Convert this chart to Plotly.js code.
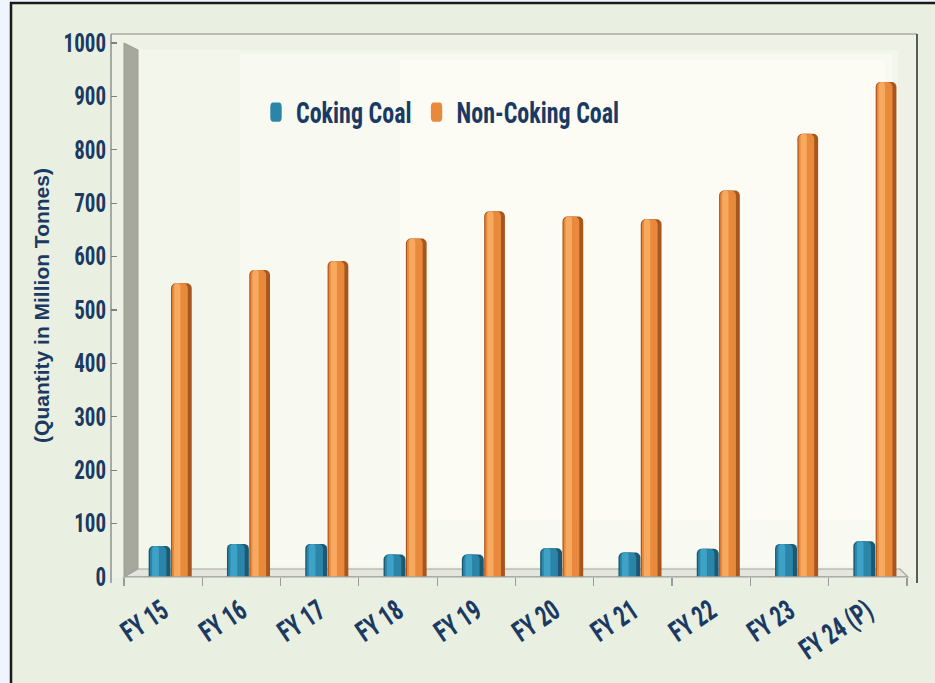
<!DOCTYPE html>
<html>
<head>
<meta charset="utf-8">
<script src="https://cdn.plot.ly/plotly-3.0.1.min.js"></script>
<style>
html,body{margin:0;padding:0;background:#eef5fc;}
#chart{width:935px;height:683px;}
</style>
</head>
<body>
<div id="chart"></div>
<script>
// ---- data ----
const categories = ['FY 15','FY 16','FY 17','FY 18','FY 19','FY 20','FY 21','FY 22','FY 23','FY 24 (P)'];
const cokingCoal = [58, 62, 62, 42, 42, 54, 46, 53, 62, 67];
const nonCokingCoal = [550, 575, 592, 634, 685, 675, 670, 724, 830, 927];
const yTickValues = [0, 100, 200, 300, 400, 500, 600, 700, 800, 900, 1000];
const seriesNames = ['Coking Coal', 'Non-Coking Coal'];
const yTitle = '(Quantity in Million Tonnes)';

// ---- font detection ----
function hasFont(name){
  const c = document.createElement('canvas').getContext('2d');
  const t = 'abcdefghijklmnopqrstuvwxyzABCDEFGH0123456789';
  let res = false;
  ['monospace','serif'].forEach(function(base){
    c.font = 'bold 40px ' + base; const a = c.measureText(t).width;
    c.font = 'bold 40px "' + name + '", ' + base; const b = c.measureText(t).width;
    if (Math.abs(a-b) > 0.5) res = true;
  });
  return res;
}
const narrow = ['Liberation Sans Narrow','Arial Narrow','Roboto Condensed','Open Sans Condensed','DejaVu Sans Condensed'].find(hasFont);
const condFamily = narrow ? '"' + narrow + '", "Liberation Sans", Arial, sans-serif' : '"Liberation Sans", Arial, sans-serif';
const sz = narrow ? {ytick:21, xtick:22, legend:24} : {ytick:17, xtick:17, legend:19};
const navy = '#1b3a63';

// ---- pixel helpers (plot area: 111..917 x 34..577) ----
const L = 111, T = 34, W = 806, H = 543;
const px = x => (x - L) / W;
const py = y => (T + H - y) / H;

function bar(vals, name, color, offset, width, showlegend){
  return {
    type:'bar', x:categories, y:vals, name:name, offset:offset, width:width,
    marker:{color:color, cornerradius:5, line:{width:0}},
    showlegend:showlegend, hoverinfo:'skip'
  };
}

const traces = [
  bar(cokingCoal, seriesNames[0], '#1a5873', -0.185, 0.28, false),
  bar(cokingCoal, seriesNames[0], '#2a85a8', -0.168, 0.21, true),
  bar(cokingCoal, seriesNames[0], '#3ea2c6', -0.14, 0.085, false),
  bar(nonCokingCoal, seriesNames[1], '#a8561f', 0.10, 0.265, false),
  bar(nonCokingCoal, seriesNames[1], '#e8893c', 0.115, 0.20, true),
  bar(nonCokingCoal, seriesNames[1], '#f7a95f', 0.14, 0.08, false)
];

const shapes = [
  // frame
  {type:'rect', xref:'paper', yref:'paper', x0:px(11), x1:px(980), y0:py(3), y1:py(720),
   fillcolor:'#e9efe1', line:{color:'#1a1a1a', width:2.5}, layer:'below'},
  // plot area
  {type:'rect', xref:'paper', yref:'paper', x0:px(111), x1:px(917), y0:py(34), y1:py(577),
   fillcolor:'#eef1e6', line:{width:0}, layer:'below'},
  // back wall
  {type:'rect', xref:'paper', yref:'paper', x0:px(138), x1:px(898), y0:py(50), y1:py(569),
   fillcolor:'#f3f6eb', line:{width:0}, layer:'below'},
  {type:'rect', xref:'paper', yref:'paper', x0:px(240), x1:px(892), y0:py(54), y1:py(566),
   fillcolor:'rgba(252,252,244,0.6)', line:{width:0}, layer:'below'},
  {type:'rect', xref:'paper', yref:'paper', x0:px(400), x1:px(885), y0:py(60), y1:py(520),
   fillcolor:'rgba(255,255,250,0.5)', line:{width:0}, layer:'below'},
  // side wall
  {type:'path', xref:'paper', yref:'paper',
   path:'M'+px(124)+','+py(43)+' L'+px(138)+','+py(50)+' L'+px(138)+','+py(569)+' L'+px(124)+','+py(577)+' Z',
   fillcolor:'#a6a89e', line:{color:'#9a9c92', width:1}, layer:'below'},
  // floor
  {type:'path', xref:'paper', yref:'paper',
   path:'M'+px(124)+','+py(577)+' L'+px(138)+','+py(569)+' L'+px(900)+','+py(569)+' L'+px(908)+','+py(577)+' Z',
   fillcolor:'#e4e5dc', line:{color:'#a2a39b', width:1.2}, layer:'below'},
  // box lines
  {type:'line', xref:'paper', yref:'paper', x0:px(111), x1:px(111), y0:py(34), y1:py(583), line:{color:'#7a7a7a', width:1.2}},
  {type:'line', xref:'paper', yref:'paper', x0:px(111), x1:px(917), y0:py(34), y1:py(34), line:{color:'#8a8a8a', width:1.2}},
  {type:'line', xref:'paper', yref:'paper', x0:px(917), x1:px(917), y0:py(34), y1:py(583), line:{color:'#2a2a2a', width:1.5}},
  // x baseline
  {type:'line', xref:'x', yref:'y', x0:-0.5, x1:9.5, y0:0, y1:0, line:{color:'#a5a5a5', width:1.5}}
];

const layout = {
  width:935, height:683,
  margin:{l:L, r:935-917, t:T, b:683-577},
  paper_bgcolor:'#eef5fc',
  plot_bgcolor:'rgba(0,0,0,0)',
  barmode:'overlay',
  showlegend:true,
  legend:{orientation:'h', x:px(256), xanchor:'left', y:py(90), yanchor:'top',
    bgcolor:'rgba(0,0,0,0)', font:{family:condFamily, size:sz.legend, color:navy, weight:'bold'},
    traceorder:'normal', itemclick:false, itemdoubleclick:false},
  xaxis:{type:'category', range:[-0.5-13/78.3, 9.5+10/78.3], showgrid:false, zeroline:false, showline:false,
    ticks:'outside', tickson:'boundaries', ticklen:8, tickcolor:'#9a9a9a', tickwidth:1.2, ticklabelstandoff:15,
    tickangle:-34, tickfont:{family:condFamily, size:sz.xtick, color:navy, weight:'bold'}, fixedrange:true},
  yaxis:{range:[0, 1017], tickvals:yTickValues, ticktext:yTickValues.map(String), showgrid:false, zeroline:false,
    showline:false, ticks:'inside', ticklen:6, tickcolor:'#808080', tickwidth:1.2, ticklabelstandoff:4,
    tickfont:{family:condFamily, size:sz.ytick, color:navy, weight:'bold'},
    title:{text:yTitle, standoff:8, font:{family:'"Liberation Sans", Arial, sans-serif', size:21, color:navy, weight:'bold'}},
    fixedrange:true},
  shapes:shapes
};

// stretch condensed labels vertically so they look like the tall condensed face of the original
function stretch(sel, sy){
  document.querySelectorAll(sel).forEach(function(t){
    const b = t.getBBox();
    const cx = b.x + b.width/2, cy = b.y + b.height/2;
    const tr = t.getAttribute('transform') || '';
    t.setAttribute('transform', tr + ' translate(' + cx + ',' + cy + ') scale(1,' + sy + ') translate(' + (-cx) + ',' + (-cy) + ')');
  });
}

Plotly.newPlot('chart', traces, layout, {displayModeBar:false, staticPlot:true}).then(function(){
  stretch('#chart .ytick text', 1.2);
  stretch('#chart .xtick text', 1.3);
  stretch('#chart .legend text.legendtext', 1.2);
  document.querySelectorAll('#chart .legend .legendpoints path').forEach(function(p){
    const tr = p.getAttribute('transform') || '';
    p.setAttribute('transform', tr + ' scale(0.95,1.6)');
  });
});
</script>
</body>
</html>
